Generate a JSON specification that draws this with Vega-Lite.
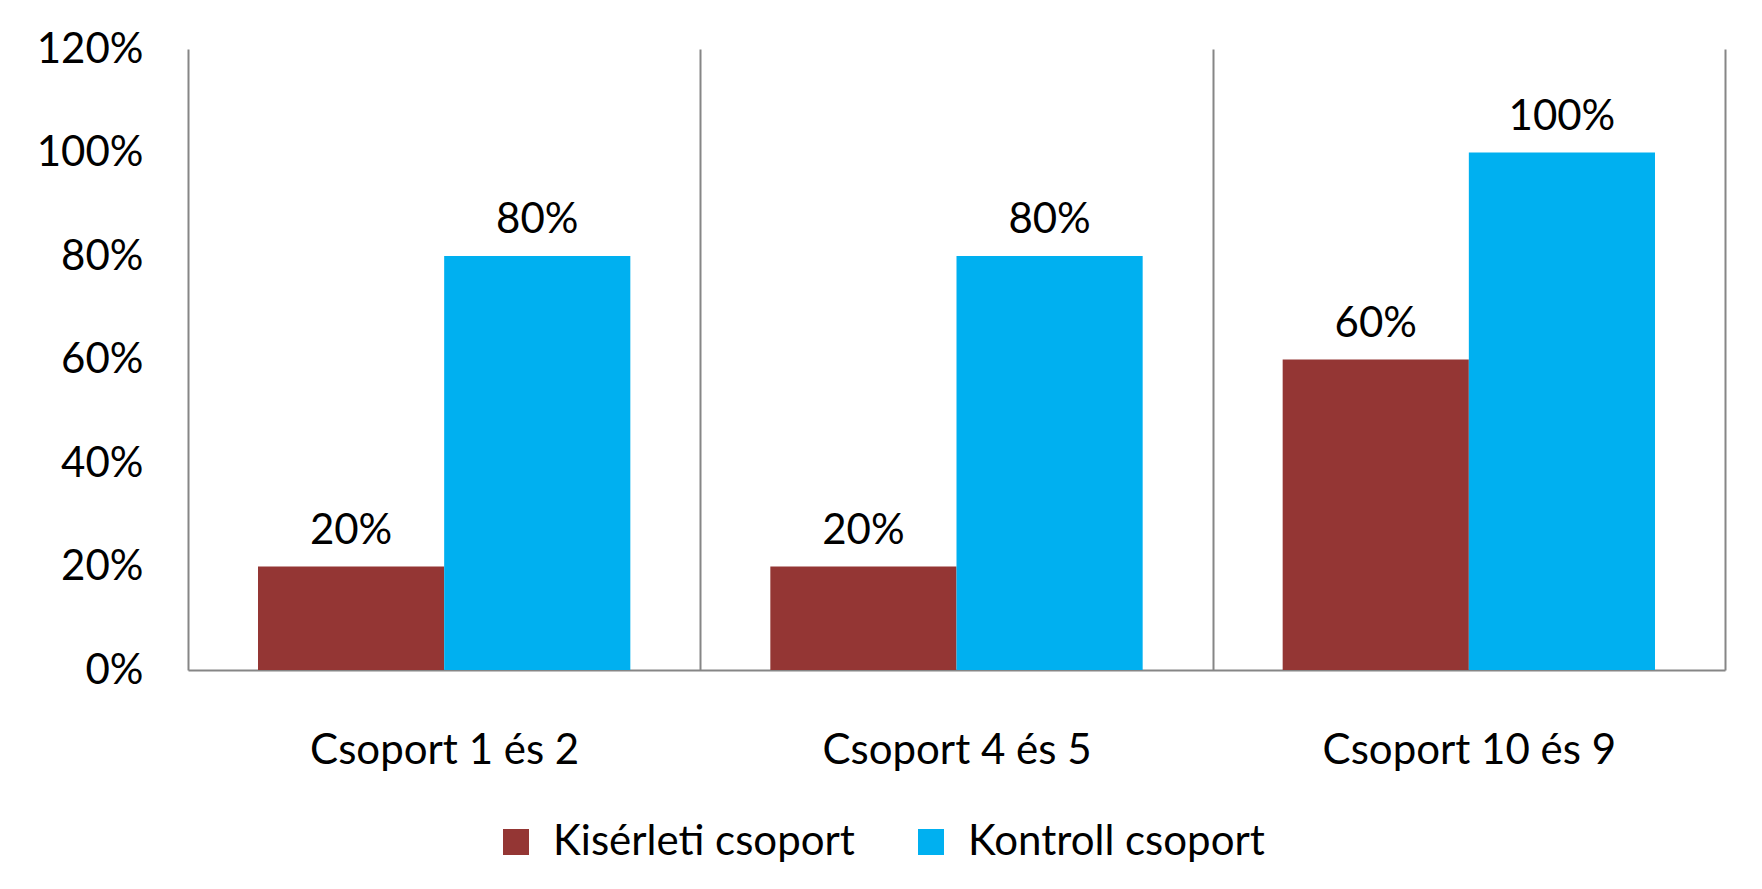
{
  "$schema": "https://vega.github.io/schema/vega-lite/v6.json",
  "autosize": {"type": "none"},
  "width": 1537,
  "height": 621,
  "padding": {"left": 188, "top": 49, "right": 37, "bottom": 219},
  "background": "white",
  "config": {
    "view": {"stroke": null},
    "font": "Lato",
    "axis": {"labelFont": "Lato", "labelColor": "black", "labelFontSize": 42, "titleFont": "Lato", "labelLimit": 0},
    "legend": {"labelFont": "Lato", "labelLimit": 0}
  },
  "data": {
    "values": [
      {"group": "Csoport 1 és 2", "series": "Kisérleti csoport", "value": 0.2},
      {"group": "Csoport 1 és 2", "series": "Kontroll csoport", "value": 0.8},
      {"group": "Csoport 4 és 5", "series": "Kisérleti csoport", "value": 0.2},
      {"group": "Csoport 4 és 5", "series": "Kontroll csoport", "value": 0.8},
      {"group": "Csoport 10 és 9", "series": "Kisérleti csoport", "value": 0.6},
      {"group": "Csoport 10 és 9", "series": "Kontroll csoport", "value": 1.0}
    ]
  },
  "encoding": {
    "x": {
      "field": "group",
      "type": "nominal",
      "sort": ["Csoport 1 és 2", "Csoport 4 és 5", "Csoport 10 és 9"],
      "scale": {"paddingInner": 0, "paddingOuter": 0},
      "axis": {
        "title": null,
        "labelAngle": 0,
        "ticks": false,
        "tickBand": "extent",
        "grid": true,
        "gridColor": "#868686",
        "gridWidth": 2,
        "domain": true,
        "domainColor": "#868686",
        "domainWidth": 2,
        "labelPadding": 80,
        "labelBaseline": "middle",
        "labelLimit": 0
      }
    },
    "xOffset": {
      "field": "series",
      "type": "nominal",
      "sort": ["Kisérleti csoport", "Kontroll csoport"],
      "scale": {"paddingInner": 0, "paddingOuter": 0.376}
    },
    "y": {
      "field": "value",
      "type": "quantitative",
      "scale": {"domain": [0, 1.2], "nice": false},
      "axis": {
        "title": null,
        "values": [0, 0.2, 0.4, 0.6, 0.8, 1.0, 1.2],
        "format": ".0%",
        "ticks": false,
        "grid": false,
        "domain": false,
        "labelPadding": 45
      }
    }
  },
  "layer": [
    {
      "mark": {"type": "bar"},
      "encoding": {
        "color": {
          "field": "series",
          "type": "nominal",
          "sort": ["Kisérleti csoport", "Kontroll csoport"],
          "scale": {"domain": ["Kisérleti csoport", "Kontroll csoport"], "range": ["#943634", "#00B0F0"]},
          "legend": {
            "title": null,
            "orient": "none",
            "direction": "horizontal",
            "legendX": 307,
            "legendY": 772,
            "symbolType": "square",
            "symbolSize": 676,
            "symbolStrokeWidth": 0,
            "labelFontSize": 42,
            "labelColor": "black",
            "labelOffset": 16,
            "labelLimit": 0,
            "columnPadding": 55,
            "padding": 0
          }
        }
      }
    },
    {
      "mark": {"type": "text", "baseline": "alphabetic", "dy": -23, "fontSize": 42, "color": "black", "font": "Lato"},
      "encoding": {
        "text": {"field": "value", "type": "quantitative", "format": ".0%"}
      }
    }
  ]
}
